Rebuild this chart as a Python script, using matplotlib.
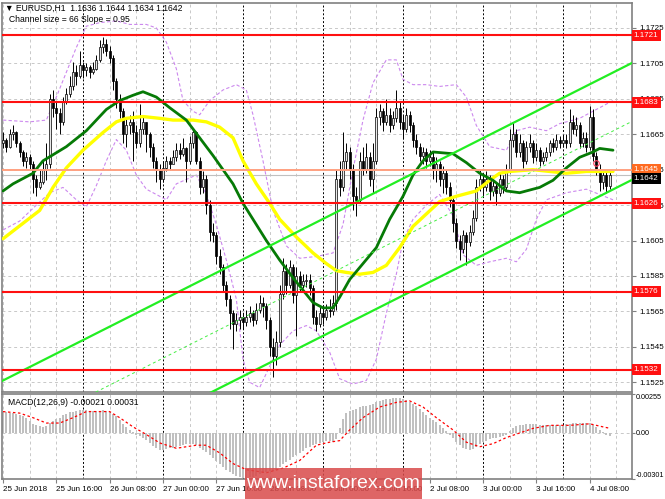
import numpy as np
import matplotlib.pyplot as plt
from matplotlib.patches import Rectangle

# prices are kept in pips above 1.1500
BASE = 1.1500
PIP = 0.0001

first_open = 160
closes = [162, 158, 165, 166, 160, 155, 150, 152, 148, 140, 135, 138, 145, 148, 185, 180,
          177, 172, 183, 188, 192, 200, 198, 204, 201, 203, 200, 202, 207, 214, 216, 212,
          208, 195, 185, 178, 165, 170, 172, 166, 160, 168, 172, 165, 158, 150, 145, 140,
          146, 150, 148, 152, 156, 154, 157, 150, 160, 166, 150, 135, 140, 125, 110, 108,
          96, 90, 80, 72, 64, 58, 60, 62, 59, 62, 64, 60, 66, 70, 68, 60,
          45, 40, 48, 75, 88, 80, 90, 74, 85, 80, 82, 83, 78, 62, 58, 64,
          62, 66, 65, 70, 140, 135, 150, 155, 145, 130, 128, 150, 145, 152, 140, 150,
          175, 178, 172, 176, 170, 174, 180, 172, 168, 176, 170, 162, 158, 153, 155, 150,
          152, 145, 148, 140, 143, 135, 128, 115, 105, 100, 108, 104, 110, 118, 135, 140,
          135, 140, 133, 136, 132, 140, 135, 145, 162, 165, 155, 160, 150, 158, 160, 152,
          156, 150, 152, 155, 160, 158, 162, 160, 162, 160, 172, 168, 170, 160, 163, 158,
          175, 153, 145, 138, 142, 136, 142]
highs = [166, 163, 168, 170, 167, 161, 156, 155, 154, 150, 142, 145, 150, 160, 188, 190,
         183, 180, 186, 191, 198, 206, 204, 212, 206, 205, 204, 206, 210, 218, 220, 219,
         215, 210, 197, 188, 180, 175, 176, 178, 170, 182, 176, 172, 166, 160, 152, 148,
         150, 153, 152, 156, 160, 160, 163, 158, 164, 168, 167, 152, 144, 142, 128, 115,
         110, 100, 92, 82, 74, 66, 64, 66, 64, 66, 68, 66, 70, 74, 73, 70,
         62, 50, 54, 80, 95, 92, 94, 92, 90, 88, 86, 86, 86, 80, 66, 68,
         67, 69, 72, 74, 145, 150, 166, 160, 158, 148, 135, 155, 158, 160, 155, 160,
         180, 182, 180, 185, 180, 178, 190, 183, 176, 180, 178, 172, 165, 160, 158, 157,
         156, 155, 152, 150, 147, 145, 138, 130, 118, 108, 111, 110, 114, 122, 140, 145,
         142, 144, 142, 139, 138, 143, 142, 148, 168, 172, 168, 165, 162, 161, 165, 162,
         160, 158, 155, 158, 162, 163, 165, 164, 165, 165, 179, 176, 175, 172, 166, 166,
         181, 179, 155, 148, 145, 144, 144]
lows = [157, 155, 157, 162, 158, 152, 147, 146, 145, 132, 130, 134, 137, 139, 146, 175,
        168, 165, 170, 182, 186, 190, 193, 197, 197, 198, 197, 199, 201, 206, 211, 209,
        205, 190, 180, 174, 160, 158, 165, 150, 157, 158, 165, 155, 152, 146, 138, 134,
        138, 144, 145, 149, 150, 151, 153, 138, 148, 157, 148, 131, 132, 120, 105, 104,
        92, 86, 76, 68, 55, 44, 54, 55, 55, 57, 59, 57, 58, 64, 62, 55,
        40, 28, 35, 45, 72, 75, 78, 70, 51, 76, 78, 79, 74, 58, 54, 56,
        58, 60, 62, 63, 66, 130, 133, 145, 140, 122, 119, 126, 142, 143, 136, 132,
        148, 170, 167, 170, 166, 168, 172, 168, 163, 166, 166, 158, 154, 150, 148, 146,
        147, 140, 138, 136, 132, 131, 124, 110, 101, 94, 98, 91, 102, 108, 116, 133,
        130, 133, 128, 130, 125, 130, 132, 133, 143, 158, 152, 152, 146, 148, 155, 149,
        150, 147, 148, 150, 153, 155, 156, 157, 158, 157, 158, 165, 164, 157, 158, 155,
        156, 150, 142, 133, 134, 132, 134]

# moving averages (bar, pips)
yellow_bars = [0, 11, 15, 19, 24, 30, 34, 37, 42, 47, 51, 57, 61, 65, 69, 72, 76, 80, 83,
               88, 93, 97, 100, 103, 107, 111, 115, 119, 123, 127, 131, 136, 142, 146, 149,
               152, 159, 164, 169, 175, 179, 183]
yellow_pips = [106, 122, 135, 146, 156, 166, 172, 174, 175, 174, 173, 173, 172, 169, 163,
               150, 137, 126, 117, 107, 98, 92, 88, 87, 86, 87, 91, 101, 113, 120, 127, 130,
               133, 139, 143, 144, 145, 144, 143, 144, 144, 144]
green_bars = [0, 3, 9, 12, 19, 25, 31, 35, 39, 42, 46, 50, 55, 59, 63, 66, 69, 72, 75, 79,
              83, 87, 90, 93, 96, 99, 101, 104, 108, 112, 116, 120, 123, 126, 129, 135, 139,
              143, 147, 151, 155, 161, 165, 169, 173, 177, 179, 183]
green_pips = [133, 137, 143, 150, 158, 167, 179, 184, 187, 189, 186, 180, 173, 163, 153, 145,
              137, 126, 117, 105, 94, 84, 77, 70, 67, 67, 73, 83, 92, 101, 117, 130, 142, 150,
              155, 154, 149, 143, 139, 133, 132, 135, 139, 146, 152, 155, 157, 156]

# bollinger bands (bar, pips)
upper_bars = [0, 8, 13, 16, 19, 22, 25, 29, 34, 38, 43, 46, 49, 52, 54, 57, 59, 62, 66, 70,
              73, 75, 78, 81, 85, 89, 94, 99, 102, 105, 108, 111, 115, 118, 120, 123, 127,
              131, 136, 139, 142, 146, 151, 154, 158, 163, 167, 173, 178, 183]
upper_pips = [173, 172, 173, 186, 200, 214, 226, 228, 229, 227, 227, 225, 217, 202, 184, 178,
              176, 184, 190, 193, 190, 176, 150, 122, 102, 95, 96, 98, 114, 145, 173, 194,
              207, 207, 196, 193, 193, 192, 193, 186, 170, 158, 156, 167, 169, 167, 171, 174,
              179, 184]
lower_bars = [0, 5, 10, 14, 18, 22, 25, 28, 31, 34, 37, 40, 43, 46, 49, 52, 58, 61, 64, 67,
              70, 72, 74, 77, 80, 83, 87, 91, 94, 98, 101, 105, 109, 112, 115, 118, 120, 123,
              127, 131, 135, 138, 142, 146, 151, 154, 157, 160, 163, 169, 175, 179, 183]
lower_pips = [111, 116, 125, 132, 135, 128, 124, 136, 150, 162, 156, 142, 134, 131, 128, 137,
              142, 131, 114, 94, 72, 38, 25, 22, 34, 46, 54, 57, 54, 42, 27, 24, 26, 38, 64,
              86, 105, 117, 125, 131, 119, 97, 91, 93, 95, 93, 100, 117, 128, 132, 134, 131,
              128]

# regression channel
channel_start = 1.1526      # upper line at the first bar
channel_slope = 0.95        # pips per bar
channel_size = 66           # pips

levels = [1.1721, 1.1683, 1.1626, 1.1576, 1.1532]
pivot_level = 1.1645
alert_bar, alert_price = 178, 1.1649

# MACD histogram (1e-5) and signal line
macd_hist = [137, 135, 132, 130, 125, 118, 110, 100, 80, 60, 50, 45, 42, 45, 65, 80,
             90, 100, 115, 125, 135, 140, 145, 150, 150, 148, 145, 143, 143, 145, 148, 145,
             140, 125, 110, 85, 60, 40, 20, 5, -10, -20, -30, -45, -65, -85, -100, -110,
             -110, -105, -100, -95, -90, -85, -80, -75, -70, -70, -80, -95, -110, -125, -145, -165,
             -185, -205, -225, -240, -255, -270, -280, -288, -292, -295, -290, -285, -280, -270, -262, -255,
             -250, -250, -240, -225, -205, -190, -175, -160, -145, -130, -115, -100, -90, -80, -70, -65,
             -60, -55, -55, -60, -40, 30, 90, 130, 145, 150, 160, 170, 175, 178, 180, 190,
             200, 210, 215, 220, 225, 228, 232, 230, 222, 215, 205, 190, 175, 160, 140, 120,
             100, 85, 70, 55, 35, 15, -10, -35, -60, -80, -95, -105, -110, -105, -90, -75,
             -60, -50, -40, -35, -30, -25, -20, -15, 15, 35, 45, 50, 55, 60, 62, 60,
             58, 55, 52, 50, 52, 53, 55, 55, 55, 58, 62, 66, 68, 68, 66, 66,
             68, 55, 40, 20, 5, -10, -21]
signal_bars = [0, 5, 9, 13, 17, 21, 25, 32, 35, 39, 43, 47, 52, 58, 61, 65, 69, 73, 79, 84,
               89, 94, 98, 101, 104, 108, 113, 118, 122, 126, 130, 135, 139, 143, 147, 151,
               155, 159, 164, 170, 176, 180, 182]
signal_vals = [140, 130, 100, 65, 65, 100, 140, 140, 100, 40, -10, -65, -100, -80, -80, -130,
               -200, -240, -260, -230, -180, -80, -60, -50, 20, 100, 170, 200, 210, 170, 100,
               20, -60, -90, -70, -30, 0, 30, 50, 50, 60, 40, 31]
macd_top, macd_bottom = 0.00255, -0.00301

tick_bars = [0, 16, 32, 48, 64, 80, 96, 112, 128, 144, 160, 176]
tick_labels = ['25 Jun 2018', '25 Jun 16:00', '26 Jun 08:00', '27 Jun 00:00', '27 Jun 16:00',
               '28 Jun 08:00', '29 Jun 00:00', '29 Jun 16:00', '2 Jul 08:00', '3 Jul 00:00',
               '3 Jul 16:00', '4 Jul 08:00']
day_bars = [24, 48, 72, 96, 120, 144, 168]

plt.rcParams['font.family'] = ['Liberation Sans', 'DejaVu Sans']
FS = 5.8

def px(p):
    return BASE + np.asarray(p, dtype=float) * PIP

c = px(closes)
o = px([first_open] + closes[:-1])
h = px(highs)
l = px(lows)
n = len(c)
bars = np.arange(n)

fig = plt.figure(figsize=(6.65, 4.99), dpi=100)
ax = fig.add_axes([2 / 665, 1 - 392 / 499, 630 / 665, 389 / 499])
ax2 = fig.add_axes([2 / 665, 1 - 479 / 499, 630 / 665, 85 / 499])

xlim = (-0.3, 188.7)
for a in (ax, ax2):
    a.set_xlim(*xlim)
    for s in a.spines.values():
        s.set_color('#808080')
        s.set_linewidth(1.2)
    for b in range(0, 189, 8):
        if b in day_bars:
            a.axvline(b, color='black', lw=0.7, ls=(0, (2, 2)), zorder=0.5)
        else:
            a.axvline(b, color='#c8c8c8', lw=0.7, ls=(0, (3, 3)), zorder=0.5)

# main panel
ax.set_ylim(1.15195, 1.17391)
yt = np.arange(1.1525, 1.1726, 0.0020)
ax.set_yticks(yt)
ax.set_yticklabels([f'{v:.4f}' for v in yt])
ax.yaxis.tick_right()
ax.tick_params(axis='y', labelsize=FS, length=3, pad=2, color='#808080')
ax.set_xticks([])
for v in yt:
    ax.axhline(v, color='#c8c8c8', lw=0.7, ls=(0, (3, 3)), zorder=0.5)

ax.plot(upper_bars, px(upper_pips), color='#cc88ee', lw=0.8, ls=(0, (3, 2)), zorder=2)
ax.plot(lower_bars, px(lower_pips), color='#cc88ee', lw=0.8, ls=(0, (3, 2)), zorder=2)

# candles
up = c >= o
ax.vlines(bars, l, h, color='black', lw=0.7, zorder=3)
body_lo = np.minimum(o, c)
body_h = np.maximum(np.abs(c - o), 0.00004)
ax.bar(bars[up], body_h[up], bottom=body_lo[up], width=0.6, color='#e8e8e8',
       edgecolor='black', lw=0.5, zorder=3.1)
ax.bar(bars[~up], body_h[~up], bottom=body_lo[~up], width=0.6, color='black',
       edgecolor='black', lw=0.5, zorder=3.1)

ax.plot(yellow_bars, px(yellow_pips), color='#ffff00', lw=2.4, zorder=4,
        solid_capstyle='round')
ax.plot(green_bars, px(green_pips), color='#067a06', lw=2.0, zorder=4.1,
        solid_capstyle='round')

# channel
cb = np.array([xlim[0], xlim[1]])
upper = channel_start + channel_slope * PIP * cb
ax.plot(cb, upper, color='#22ee22', lw=1.6, zorder=4.2)
ax.plot(cb, upper - channel_size * PIP, color='#22ee22', lw=1.6, zorder=4.2)
ax.plot(cb, upper - channel_size / 2 * PIP, color='#44ee44', lw=0.7,
        ls=(0, (3, 3)), zorder=4.2)

ytr = ax.get_yaxis_transform()
for lv in levels:
    ax.axhline(lv, color='#ff1010', lw=1.5, zorder=5)
    ax.text(1.003, lv, f'{lv:.4f}', transform=ytr, ha='left', va='center', color='white',
            fontsize=FS, zorder=6, clip_on=False,
            bbox=dict(boxstyle='square,pad=0.25', fc='#ff1010', ec='none'))
ax.axhline(pivot_level, color='#ffa080', lw=1.4, zorder=4.5)
ax.text(1.003, pivot_level, f'{pivot_level:.4f}', transform=ytr, ha='left', va='center',
        color='white', fontsize=FS, zorder=6, clip_on=False,
        bbox=dict(boxstyle='square,pad=0.25', fc='#ff6a20', ec='none'))
ax.axhline(c[-1], color='#c0c0c0', lw=0.8, zorder=2.5)
ax.text(1.003, c[-1], f'{c[-1]:.4f}', transform=ytr, ha='left', va='top', color='white',
        fontsize=FS, zorder=6.5, clip_on=False,
        bbox=dict(boxstyle='square,pad=0.25', fc='black', ec='none'))
ax.plot(alert_bar, alert_price, 'o', ms=4, mfc='none', mec='#ff4060', mew=0.8, zorder=6)

fig.text(5 / 665, 1 - 8 / 499,
         f'\u25bc EURUSD,H1  {o[-1]:.4f} {h[-1]:.4f} {l[-1]:.4f} {c[-1]:.4f}',
         fontsize=FS + 0.4, va='center', ha='left')
fig.text(9 / 665, 1 - 20 / 499, f'Channel size = {channel_size} Slope = {channel_slope:.2f}',
         fontsize=FS + 0.4, va='center', ha='left')

# MACD panel
hist = np.array(macd_hist) * 1e-5
sig = np.array(signal_vals) * 1e-5
ax2.set_ylim(macd_bottom, macd_top)
ax2.bar(bars, hist, width=0.6, color='#c0c0c0', zorder=2)
ax2.plot(signal_bars, sig, color='red', lw=0.9, ls=(0, (2, 2)), zorder=3)
ax2.axhline(0, color='#c8c8c8', lw=0.7, ls=(0, (3, 3)), zorder=0.5)
ax2.yaxis.tick_right()
ax2.set_yticks([macd_top, 0, macd_bottom])
ax2.set_yticklabels([f'{macd_top:.5f}', '0.00', f'{macd_bottom:.5f}'])
ax2.tick_params(axis='y', labelsize=5.2, length=2, pad=1, color='#808080')
tl = ax2.get_yticklabels()
tl[0].set_va('top')
tl[2].set_va('bottom')
ax2.set_xticks(tick_bars)
ax2.set_xticklabels(tick_labels, ha='left')
ax2.tick_params(axis='x', labelsize=FS, length=3, pad=2, color='#808080')
ax2.text(6 / 630, 0.95, f'MACD(12,26,9) {hist[-1]:.5f} {sig[-1]:.5f}', transform=ax2.transAxes,
         fontsize=FS + 0.4, va='top', ha='left')

# watermark
fig.patches.append(Rectangle((245 / 665, 0), 177 / 665, 31 / 499, transform=fig.transFigure,
                             fc='#d94a4a', ec='none', alpha=0.85, zorder=10))
fig.text(333 / 665, 15 / 499, 'www.instaforex.com', color='white', fontsize=14,
         ha='center', va='center', zorder=11)

fig.savefig('out.png', dpi=100, facecolor='white')
